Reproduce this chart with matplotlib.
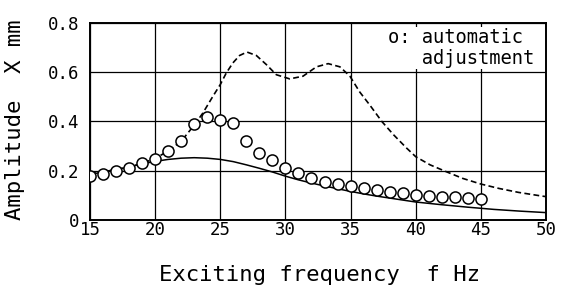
import matplotlib
matplotlib.use("Agg")
import matplotlib.pyplot as plt

# automatic adjustment (circles)
f_auto = [15, 16, 17, 18, 19, 20, 21, 22, 23, 24, 25, 26, 27, 28, 29, 30,
          31, 32, 33, 34, 35, 36, 37, 38, 39, 40, 41, 42, 43, 44, 45]
x_auto = [0.18, 0.187, 0.20, 0.21, 0.23, 0.248, 0.28, 0.32, 0.39, 0.42, 0.405, 0.393,
          0.32, 0.274, 0.244, 0.21, 0.19, 0.17, 0.156, 0.146, 0.137, 0.129, 0.122,
          0.115, 0.108, 0.102, 0.099, 0.095, 0.092, 0.089, 0.087]

# dashed curve
f_dash = [15, 16, 17, 18, 19, 20, 21, 22, 23, 23.66, 24.43, 25, 25.46, 25.97, 26.48,
          27.05, 27.77, 28.54, 29.3, 30.33, 31.35, 32.38, 33.28, 34.18, 34.95, 35.7,
          36.5, 37.4, 38.3, 39.3, 40, 41.1, 42.35, 43.6, 45, 46.4, 47.9, 49.7, 50]
x_dash = [0.19, 0.195, 0.205, 0.215, 0.23, 0.25, 0.28, 0.32, 0.385, 0.434, 0.502, 0.55,
          0.597, 0.638, 0.668, 0.682, 0.668, 0.631, 0.59, 0.573, 0.584, 0.622, 0.635,
          0.622, 0.584, 0.52, 0.465, 0.40, 0.346, 0.292, 0.257, 0.224, 0.196, 0.169,
          0.146, 0.128, 0.112, 0.097, 0.095]

# solid curve
f_solid = [15, 16, 17, 18, 19, 20, 21, 22, 23, 24, 25, 26, 27, 28, 29, 30, 31, 32,
           33, 34, 35, 36, 37, 38, 39, 40, 42, 44, 46, 48, 50]
x_solid = [0.185, 0.195, 0.205, 0.215, 0.228, 0.238, 0.246, 0.251, 0.253, 0.251,
           0.246, 0.237, 0.224, 0.21, 0.195, 0.178, 0.163, 0.15, 0.138, 0.127, 0.116,
           0.106, 0.097, 0.089, 0.081, 0.073, 0.062, 0.052, 0.043, 0.036, 0.030]

xticks = [15, 20, 25, 30, 35, 40, 45, 50]
yticks = [0, 0.2, 0.4, 0.6, 0.8]
yticklabels = ["0", "0.2", "0.4", "0.6", "0.8"]

plt.rcParams['font.family'] = ['DejaVu Sans Mono', 'DejaVu Sans']

fig = plt.figure(figsize=(5.61, 2.85), dpi=100)
ax = fig.add_axes([0.1604, 0.2281, 0.8129, 0.6912])

ax.plot(f_solid, x_solid, color='black', lw=1.1)
ax.plot(f_dash, x_dash, color='black', lw=1.2, linestyle=(0, (3.5, 2)))
ax.plot(f_auto, x_auto, linestyle='none', marker='o', markersize=8,
        markerfacecolor='white', markeredgecolor='black', markeredgewidth=1.1, zorder=5)

ax.set_xlim(15, 50)
ax.set_ylim(0, 0.8)
ax.set_xticks(xticks)
ax.set_yticks(yticks)
ax.set_yticklabels(yticklabels)
ax.grid(True, color='black', lw=0.9)
ax.tick_params(axis='x', length=0, labelsize=12.5, pad=0.5)
ax.tick_params(axis='y', length=0, labelsize=12.5, pad=7.5)
for s in ax.spines.values():
    s.set_linewidth(1.4)

ax.text(0.653, 0.975, "o: automatic\n   adjustment", transform=ax.transAxes,
        ha='left', va='top', fontsize=13.5, linespacing=1.15,
        bbox=dict(facecolor='white', edgecolor='none', pad=1))

fig.text(0.57, 0.035, "Exciting frequency  f Hz", ha='center', va='center', fontsize=16)
fig.text(0.027, 0.579, "Amplitude  X mm", rotation=90, ha='center', va='center', fontsize=16)

fig.savefig("out.png", dpi=100)
